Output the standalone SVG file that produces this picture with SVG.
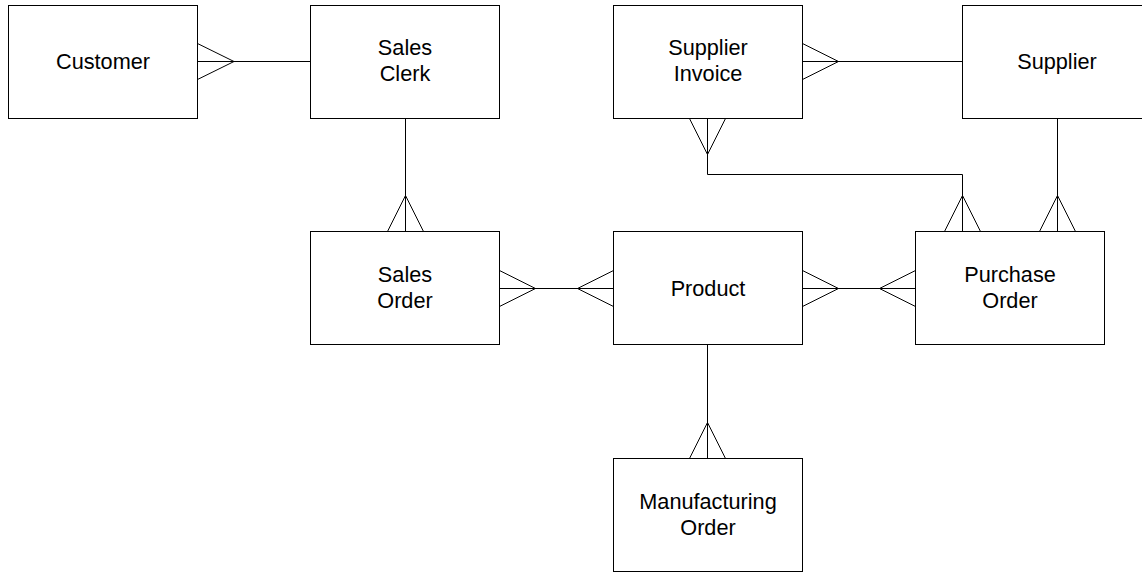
<svg xmlns="http://www.w3.org/2000/svg" width="1142" height="573" viewBox="0 0 1142 573">
  <style>
    .entity rect { fill: #ffffff; stroke: #000000; stroke-width: 1; }
    .entity text { font-family: "Liberation Sans", Arial, sans-serif; font-size: 21.7px; fill: #000000; text-anchor: middle; }
    #connectors path { fill: none; stroke: #000000; stroke-width: 1; }
  </style>
  <rect x="0" y="0" width="1142" height="573" fill="#ffffff"/>

  <!-- relationship lines with crow's-foot ends -->
  <g id="connectors">
    <!-- Customer >- Sales Clerk -->
    <path d="M197.5,61.5 H310.5"/>
    <path d="M197.5,43.5 L234,61.5 L197.5,79.5"/>
    <!-- Sales Clerk -< Sales Order -->
    <path d="M405.5,118.5 V231.5"/>
    <path d="M387.5,231.5 L405.5,195.5 L423.5,231.5"/>
    <!-- Sales Order >-< Product -->
    <path d="M499.5,288.5 H613.5"/>
    <path d="M499.5,270.5 L535.5,288.5 L499.5,306.5"/>
    <path d="M613.5,270.5 L577.5,288.5 L613.5,306.5"/>
    <!-- Supplier Invoice >- Supplier -->
    <path d="M802.5,61.5 H962.5"/>
    <path d="M802.5,43.5 L838.5,61.5 L802.5,79.5"/>
    <!-- Supplier Invoice >-< Purchase Order -->
    <path d="M707.5,118.5 V174.5 H962.5 V231.5"/>
    <path d="M689.5,118.5 L707.5,154.5 L725.5,118.5"/>
    <path d="M944.5,231.5 L962.5,195.5 L980.5,231.5"/>
    <!-- Supplier -< Purchase Order -->
    <path d="M1057.5,118.5 V231.5"/>
    <path d="M1039.5,231.5 L1057.5,195.5 L1075.5,231.5"/>
    <!-- Product >-< Purchase Order -->
    <path d="M802.5,288.5 H915.5"/>
    <path d="M802.5,270.5 L838.5,288.5 L802.5,306.5"/>
    <path d="M915.5,270.5 L879.5,288.5 L915.5,306.5"/>
    <!-- Product -< Manufacturing Order -->
    <path d="M707.5,344.5 V458.5"/>
    <path d="M689.5,458.5 L707.5,422.5 L725.5,458.5"/>
  </g>

  <g id="customer" class="entity">
    <rect x="8.5" y="5.5" width="189" height="113"/>
    <text x="103" y="68.5">Customer</text>
  </g>
  <g id="sales-clerk" class="entity">
    <rect x="310.5" y="5.5" width="189" height="113"/>
    <text x="405" y="55">Sales</text>
    <text x="405" y="80.5">Clerk</text>
  </g>
  <g id="supplier-invoice" class="entity">
    <rect x="613.5" y="5.5" width="189" height="113"/>
    <text x="708" y="55">Supplier</text>
    <text x="708" y="80.5">Invoice</text>
  </g>
  <g id="supplier" class="entity">
    <rect x="962.5" y="5.5" width="189" height="113"/>
    <text x="1057" y="68.5">Supplier</text>
  </g>
  <g id="sales-order" class="entity">
    <rect x="310.5" y="231.5" width="189" height="113"/>
    <text x="405" y="282">Sales</text>
    <text x="405" y="307.5">Order</text>
  </g>
  <g id="product" class="entity">
    <rect x="613.5" y="231.5" width="189" height="113"/>
    <text x="708" y="295.5">Product</text>
  </g>
  <g id="purchase-order" class="entity">
    <rect x="915.5" y="231.5" width="189" height="113"/>
    <text x="1010" y="282">Purchase</text>
    <text x="1010" y="307.5">Order</text>
  </g>
  <g id="manufacturing-order" class="entity">
    <rect x="613.5" y="458.5" width="189" height="113"/>
    <text x="708" y="509">Manufacturing</text>
    <text x="708" y="534.5">Order</text>
  </g>
</svg>
